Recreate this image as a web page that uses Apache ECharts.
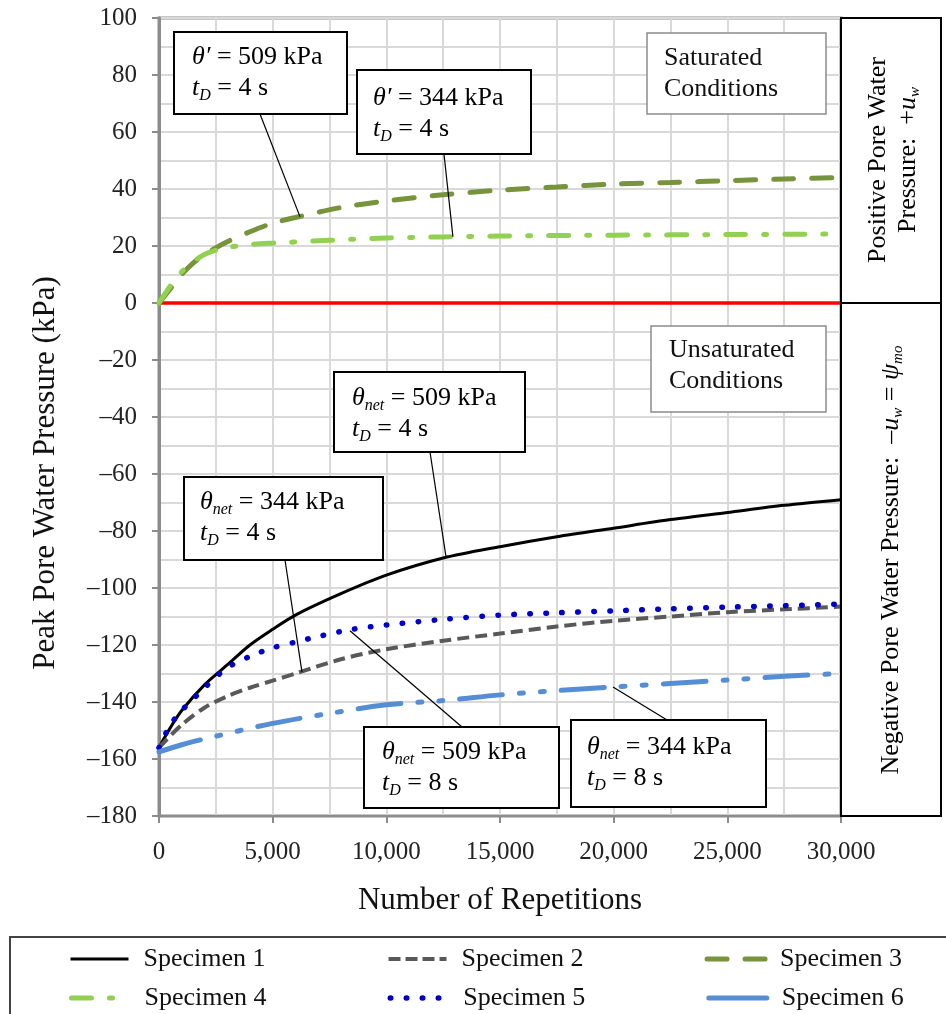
<!DOCTYPE html>
<html>
<head>
<meta charset="utf-8">
<script src="https://cdn.jsdelivr.net/npm/echarts@6/dist/echarts.min.js"></script>
<style>
  html, body { margin: 0; padding: 0; background: #fff; }
  #main { width: 946px; height: 1014px; }
</style>
</head>
<body>
<div id="main"></div>
<script>
// values: x = number of repetitions, y = peak pore water pressure (kPa)
var spec1X = [0, 500, 1000, 2000, 3000, 4000, 5000, 6000, 8000, 10000, 12500, 15000, 17500, 20000, 22500, 25000, 27500, 30000];
var spec1Y = [-156, -149, -143, -134, -127, -120, -114.5, -109.5, -102, -95.5, -89.5, -85.5, -82, -79, -76, -73.5, -71, -69];

var spec2X = [0, 1000, 2000, 3000, 4000, 5000, 6000, 8000, 10000, 12500, 15000, 17500, 20000, 22500, 25000, 27500, 30000];
var spec2Y = [-156, -148, -142, -138, -135, -132.5, -130, -125, -121.5, -118.5, -116, -113.5, -111.5, -110, -108.5, -107.5, -106.5];

var spec3X = [0, 500, 1000, 1500, 2000, 3000, 4000, 5000, 6000, 8000, 10000, 12500, 15000, 17500, 20000, 22500, 25000, 27500, 30000];
var spec3Y = [0, 5, 10, 14, 17, 21.5, 25, 28, 30, 33.5, 35.8, 38, 39.6, 40.7, 41.7, 42.3, 42.9, 43.5, 44];

var spec4X = [0, 500, 1000, 1500, 2000, 2500, 3000, 4000, 5000, 7500, 10000, 12500, 15000, 20000, 25000, 30000];
var spec4Y = [0, 6, 11, 14.5, 17, 18.5, 19.5, 20.5, 21, 22, 22.8, 23.2, 23.5, 23.8, 24, 24.2];

var spec5X = [0, 500, 1000, 1500, 2000, 3000, 4000, 5000, 6000, 7000, 8500, 10000, 12500, 15000, 17500, 20000, 22500, 25000, 27500, 30000];
var spec5Y = [-156, -148, -143, -139, -135, -128, -124, -121, -119, -117, -114.5, -113, -111, -109.5, -108.7, -108, -107.3, -106.7, -106.2, -105.6];

var spec6X = [0, 1000, 2500, 5000, 7500, 10000, 12500, 15000, 17500, 20000, 22500, 25000, 27500, 30000];
var spec6Y = [-157.5, -155, -152, -147.5, -144, -141, -139.5, -137.5, -136, -134.7, -133.5, -132.3, -131, -130];

var zeroX = [0, 30000];
var zeroY = [0, 0];

var seriesNames = ['Specimen 1', 'Specimen 2', 'Specimen 3', 'Specimen 4', 'Specimen 5', 'Specimen 6'];
var yTicks = { min: -180, max: 100, step: 20 };
var xTicks = { min: 0, max: 30000, step: 5000 };

var FONT = '"Liberation Serif", "Times New Roman", serif';

var styles = [
    { color: '#000000', width: 3 },
    { color: '#595959', width: 4, type: [12, 6] },
    { color: '#77933c', width: 5, type: [20, 18], cap: 'round' },
    { color: '#92d050', width: 5, type: [20, 18, 3, 18], cap: 'round' },
    { color: '#0000cc', width: 5.5, type: [0.5, 15.5], cap: 'round' },
    { color: '#558ed5', width: 5, type: [43, 17, 4, 17, 4, 17], cap: 'round' }
];

function pairs(xs, ys) {
    return xs.map(function (x, i) { return [x, ys[i]]; });
}

function lineSeries(i, xs, ys) {
    return {
        name: seriesNames[i],
        type: 'line',
        smooth: 0.3,
        symbol: 'none',
        data: pairs(xs, ys),
        lineStyle: styles[i],
        itemStyle: { color: styles[i].color },
        emphasis: { disabled: true }
    };
}

function legendItem(i) {
    var ls = Object.assign({}, styles[i]);
    if (i === 5) ls.type = 'solid';
    if (i === 1) ls.type = [12, 5];
    return { name: seriesNames[i], lineStyle: ls, itemStyle: { opacity: 0 } };
}

function legendRow(idx, top) {
    return {
        data: idx.map(legendItem),
        left: 64, top: top,
        itemWidth: 58, itemHeight: 14, itemGap: 121,
        textStyle: { fontFamily: FONT, fontSize: 26, color: '#111', padding: [0, 0, 0, 10] },
        selectedMode: false
    };
}

var chart = echarts.init(document.getElementById('main'));

var option = {
    animation: false,
    backgroundColor: '#fff',
    textStyle: { fontFamily: FONT },
    grid: {
        left: 159, right: 105, top: 18, bottom: 198,
        show: true, borderColor: '#8c8c8c', borderWidth: 3, backgroundColor: 'transparent'
    },
    legend: [legendRow([0, 1, 2], 941), legendRow([3, 4, 5], 980)],
    xAxis: {
        type: 'value',
        min: xTicks.min, max: xTicks.max, interval: xTicks.step,
        name: 'Number of Repetitions',
        nameLocation: 'middle',
        nameGap: 69,
        nameTextStyle: { fontFamily: FONT, fontSize: 31, color: '#111' },
        axisLine: { onZero: false, lineStyle: { color: '#8c8c8c', width: 2 } },
        axisTick: { show: true, length: 7, lineStyle: { color: '#8c8c8c', width: 2 } },
        axisLabel: {
            margin: 24, fontSize: 25, color: '#222', fontFamily: FONT,
            formatter: function (v) { return String(v).replace(/\B(?=(\d{3})+(?!\d))/g, ','); }
        },
        splitLine: { lineStyle: { color: '#d9d9d9', width: 2 } },
        minorTick: { show: false, splitNumber: 2 },
        minorSplitLine: { show: true, lineStyle: { color: '#d9d9d9', width: 2 } }
    },
    yAxis: {
        type: 'value',
        min: yTicks.min, max: yTicks.max, interval: yTicks.step,
        name: 'Peak Pore Water Pressure (kPa)',
        nameLocation: 'middle',
        nameGap: 98,
        nameTextStyle: { fontFamily: FONT, fontSize: 31, color: '#111', padding: [0, 112, 0, 0] },
        axisLine: { show: true, onZero: false, lineStyle: { color: '#8c8c8c', width: 3 } },
        axisTick: { show: true, length: 7, lineStyle: { color: '#8c8c8c', width: 2 } },
        axisLabel: {
            margin: 22, fontSize: 25, color: '#222', fontFamily: FONT,
            formatter: function (v) { return v < 0 ? '\u2013' + Math.abs(v) : String(v); }
        },
        splitLine: { lineStyle: { color: '#d9d9d9', width: 2 } },
        minorTick: { show: false, splitNumber: 2 },
        minorSplitLine: { show: true, lineStyle: { color: '#d9d9d9', width: 2 } }
    },
    series: [
        {
            name: 'zero', type: 'line', symbol: 'none', data: pairs(zeroX, zeroY),
            lineStyle: { color: '#ff0000', width: 3.5 }, emphasis: { disabled: true }, z: 1
        },
        lineSeries(0, spec1X, spec1Y),
        lineSeries(1, spec2X, spec2Y),
        lineSeries(2, spec3X, spec3Y),
        lineSeries(3, spec4X, spec4Y),
        lineSeries(4, spec5X, spec5Y),
        lineSeries(5, spec6X, spec6Y)
    ]
};

chart.setOption(option);

// ---- annotations: callout boxes, leader lines, side panels, legend frame ----
var richStyles = {
    n: { fontFamily: FONT, fontSize: 26, color: '#111', lineHeight: 31 },
    i: { fontFamily: FONT, fontSize: 26, color: '#111', fontStyle: 'italic', lineHeight: 31 },
    s: { fontFamily: FONT, fontSize: 16, color: '#111', fontStyle: 'italic', lineHeight: 15, verticalAlign: 'bottom' }
};

var callouts = [
    { box: [174, 32, 347, 114], text: [192, 42], l1: '{i|\u03b8\u2032}{n| = 509 kPa}', td: '4', from: [260, 114], to: [6200, 30.3] },
    { box: [357, 70, 531, 154], text: [373, 83], l1: '{i|\u03b8\u2032}{n| = 344 kPa}', td: '4', from: [444, 154], to: [12930, 23.2] },
    { box: [334, 372, 525, 452], text: [352, 383], l1: '{i|\u03b8}{s|net}{n| = 509 kPa}', td: '4', from: [430, 452], to: [12620, -88.8] },
    { box: [184, 477, 383, 560], text: [200, 487], l1: '{i|\u03b8}{s|net}{n| = 344 kPa}', td: '4', from: [285, 560], to: [6290, -129.5] },
    { box: [364, 727, 559, 808], text: [382, 737], l1: '{i|\u03b8}{s|net}{n| = 509 kPa}', td: '8', from: [462, 727], to: [8400, -115] },
    { box: [571, 720, 766, 807], text: [587, 732], l1: '{i|\u03b8}{s|net}{n| = 344 kPa}', td: '8', from: [667, 720], to: [19970, -134.7] }
];

var graphics = [];

callouts.forEach(function (c) {
    var p = chart.convertToPixel({ seriesIndex: 0 }, c.to);
    graphics.push({
        type: 'line', z: 50,
        shape: { x1: c.from[0], y1: c.from[1], x2: p[0], y2: p[1] },
        style: { stroke: '#000', lineWidth: 1.2 }
    });
    graphics.push({
        type: 'rect', z: 51,
        shape: { x: c.box[0], y: c.box[1], width: c.box[2] - c.box[0], height: c.box[3] - c.box[1] },
        style: { fill: '#fff', stroke: '#000', lineWidth: 2 }
    });
    graphics.push({
        type: 'text', z: 52, x: c.text[0], y: c.text[1],
        style: {
            text: c.l1 + '\n{i|t}{s|D}{n| = ' + c.td + ' s}',
            rich: richStyles, align: 'left', verticalAlign: 'top'
        }
    });
});

// condition labels
[
    { box: [647, 33, 826, 114], text: [664, 43], label: 'Saturated\nConditions' },
    { box: [651, 326, 826, 412], text: [669, 335], label: 'Unsaturated\nConditions' }
].forEach(function (c) {
    graphics.push({
        type: 'rect', z: 51,
        shape: { x: c.box[0], y: c.box[1], width: c.box[2] - c.box[0], height: c.box[3] - c.box[1] },
        style: { fill: '#fff', stroke: '#8c8c8c', lineWidth: 1.5 }
    });
    graphics.push({
        type: 'text', z: 52, x: c.text[0], y: c.text[1],
        style: { text: c.label, fontFamily: FONT, fontSize: 26, lineHeight: 31, fill: '#111', align: 'left', verticalAlign: 'top' }
    });
});

// side panels
var panelRich = {
    n: { fontFamily: FONT, fontSize: 26, color: '#111', lineHeight: 30 },
    i: { fontFamily: FONT, fontSize: 26, color: '#111', fontStyle: 'italic', lineHeight: 30 },
    s: { fontFamily: FONT, fontSize: 15, color: '#111', fontStyle: 'italic', lineHeight: 14, verticalAlign: 'bottom' }
};
graphics.push({
    type: 'rect', z: 60, shape: { x: 841, y: 18, width: 100, height: 285 },
    style: { fill: '#fff', stroke: '#000', lineWidth: 2 }
});
graphics.push({
    type: 'rect', z: 60, shape: { x: 841, y: 303, width: 100, height: 513 },
    style: { fill: '#fff', stroke: '#000', lineWidth: 2 }
});
graphics.push({
    type: 'text', z: 61, x: 893, y: 160, rotation: Math.PI / 2,
    style: {
        text: '{n|Positive Pore Water}\n{n|Pressure:  +}{i|u}{s|w}',
        rich: panelRich, align: 'center', verticalAlign: 'middle'
    }
});
graphics.push({
    type: 'text', z: 61, x: 891, y: 560, rotation: Math.PI / 2,
    style: {
        text: '{n|Negative Pore Water Pressure:  \u2013}{i|u}{s|w}{n| = }{i|\u03c8}{s|mo}',
        rich: panelRich, align: 'center', verticalAlign: 'middle'
    }
});

// legend frame
graphics.push({
    type: 'rect', z: 0, shape: { x: 10, y: 937, width: 950, height: 90 },
    style: { fill: 'transparent', stroke: '#444', lineWidth: 2 }
});

chart.setOption({ graphic: graphics });
</script>
</body>
</html>
